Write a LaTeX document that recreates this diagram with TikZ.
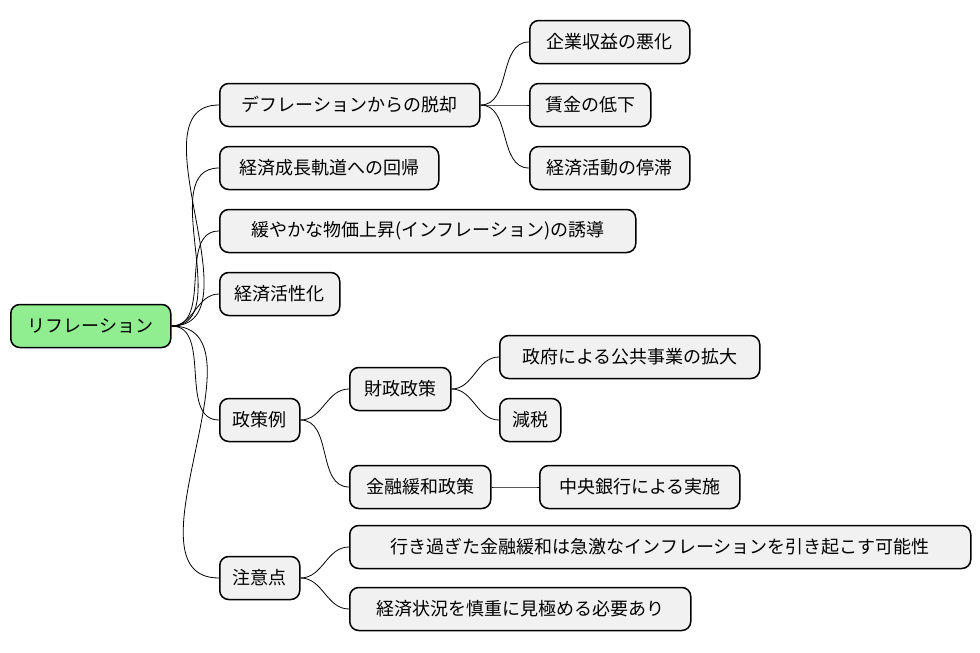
\documentclass[tikz,border=0pt]{standalone}
\usepackage{fontspec}
\setmainfont{Noto Sans CJK JP}
\begin{document}
\begin{tikzpicture}[x=1pt,y=-1pt,
  box/.style={draw=black,line width=1.5pt,rounded corners=9pt,fill=boxgray,anchor=west,minimum height=43pt,inner sep=0pt,font=\fontsize{18}{22}\selectfont},
  ln/.style={line width=0.8pt}]
\definecolor{boxgray}{HTML}{F1F1F1}
\definecolor{rootgreen}{HTML}{90EE90}
\useasboundingbox (0,0) rectangle (980,653);
\node[box,fill=rootgreen,minimum width=160pt] (r) at (10,326) {リフレーション};
\node[box,minimum width=260pt] (a) at (219,105) {デフレーションからの脱却};
\node[box,minimum width=219pt] (b) at (219,168) {経済成長軌道への回帰};
\node[box,minimum width=416pt] (c) at (219,231) {緩やかな物価上昇(インフレーション)の誘導};
\node[box,minimum width=120pt] (d) at (219,294) {経済活性化};
\node[box,minimum width=80pt] (e) at (219,420) {政策例};
\node[box,minimum width=80pt] (f) at (219,578) {注意点};
\node[box,minimum width=160pt] (a1) at (529,42) {企業収益の悪化};
\node[box,minimum width=121pt] (a2) at (529,105) {賃金の低下};
\node[box,minimum width=160pt] (a3) at (529,168) {経済活動の停滞};
\node[box,minimum width=101pt] (e1) at (349,389) {財政政策};
\node[box,minimum width=141pt] (e2) at (349,487) {金融緩和政策};
\node[box,minimum width=260pt] (e11) at (499,357) {政府による公共事業の拡大};
\node[box,minimum width=61pt] (e12) at (499,420) {減税};
\node[box,minimum width=200pt] (e21) at (539,487) {中央銀行による実施};
\node[box,minimum width=621pt] (f1) at (349,547) {行き過ぎた金融緩和は急激なインフレーションを引き起こす可能性};
\node[box,minimum width=341pt] (f2) at (349,609) {経済状況を慎重に見極める必要あり};
\foreach \p/\c in {r/a,r/b,r/c,r/d,r/e,r/f,a/a1,a/a2,a/a3,e/e1,e/e2,e1/e11,e1/e12,e2/e21,f/f1,f/f2}
  \draw[ln] (\p.east) to[out=0,in=180] (\c.west);
\end{tikzpicture}
\end{document}
